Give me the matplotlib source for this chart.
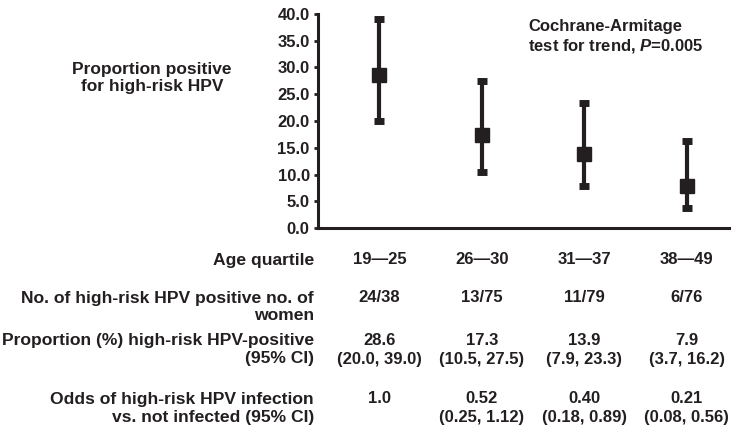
import matplotlib.pyplot as plt

age_groups = ['19\u201425', '26\u201430', '31\u201437', '38\u201449']
counts = ['24/38', '13/75', '11/79', '6/76']
proportion = [28.6, 17.3, 13.9, 7.9]
ci_low = [20.0, 10.5, 7.9, 3.7]
ci_high = [39.0, 27.5, 23.3, 16.2]
odds = ['1.0', '0.52', '0.40', '0.21']
odds_ci = ['', '(0.25, 1.12)', '(0.18, 0.89)', '(0.08, 0.56)']

ink = '#231f20'
plt.rcParams['font.family'] = ['Liberation Sans', 'DejaVu Sans']
plt.rcParams['font.weight'] = 'bold'
plt.rcParams['mathtext.fontset'] = 'custom'
plt.rcParams['mathtext.it'] = 'Liberation Sans:italic:bold'

fig = plt.figure(figsize=(7.37, 4.36), dpi=100)
ax = fig.add_axes([0.4315, 0.477, 0.557, 0.491])

x = list(range(len(age_groups)))
yerr = [[p - lo for p, lo in zip(proportion, ci_low)],
        [hi - p for p, hi in zip(proportion, ci_high)]]
ax.errorbar(x, proportion, yerr=yerr, fmt='s', color=ink, ms=10,
            elinewidth=3, capsize=3.5, capthick=5, mec=ink, mfc=ink)

ax.set_xlim(-0.6, 3.41)
ax.set_ylim(0, 40)
ax.set_yticks([0, 5, 10, 15, 20, 25, 30, 35, 40])
ax.set_yticklabels(['%.1f' % v for v in ax.get_yticks()], fontsize=12,
                   fontweight='bold', color=ink)
ax.set_xticks([])
for s in ['top', 'right']:
    ax.spines[s].set_visible(False)
for s in ['left', 'bottom']:
    ax.spines[s].set_linewidth(2.2)
    ax.spines[s].set_color(ink)
ax.tick_params(axis='y', length=3, width=2, color=ink, pad=3)


def fy(py):
    return 1 - py / 436


fig.text(528 / 737, fy(37), 'Cochrane-Armitage\ntest for trend, $\\it{P}$=0.005',
         fontsize=12, color=ink, va='center', ha='left', linespacing=1.2)

fig.text(152 / 737, fy(78), 'Proportion positive\nfor high-risk HPV',
         ha='center', va='center', fontsize=12.5, color=ink, linespacing=1.2)

# table below the axis
lx = 314 / 737
fs = 12
ls = 12.6
fig.text(lx, fy(260), 'Age quartile', ha='right', va='center', fontsize=ls, color=ink)
fig.text(lx, fy(307), 'No. of high-risk HPV positive no. of\nwomen', ha='right',
         va='center', fontsize=ls, color=ink, linespacing=1.15)
fig.text(lx, fy(350), 'Proportion (%) high-risk HPV-positive\n(95% CI)', ha='right',
         va='center', fontsize=ls, color=ink, linespacing=1.25)
fig.text(lx, fy(408), 'Odds of high-risk HPV infection\nvs. not infected (95% CI)', ha='right',
         va='center', fontsize=ls, color=ink, linespacing=1.25)

for i in x:
    cx = ax.transData.transform((i, 0))[0] / fig.bbox.width
    fig.text(cx, fy(260), age_groups[i], ha='center', va='center', fontsize=fs, color=ink)
    fig.text(cx, fy(297), counts[i], ha='center', va='center', fontsize=fs, color=ink)
    fig.text(cx, fy(350), '%.1f\n(%.1f, %.1f)' % (proportion[i], ci_low[i], ci_high[i]),
             ha='center', va='center', fontsize=fs, color=ink, linespacing=1.3)
    fig.text(cx, fy(408), odds[i] + '\n' + odds_ci[i], ha='center', va='center',
             fontsize=fs, color=ink, linespacing=1.3)

fig.savefig('out.png', dpi=100)
